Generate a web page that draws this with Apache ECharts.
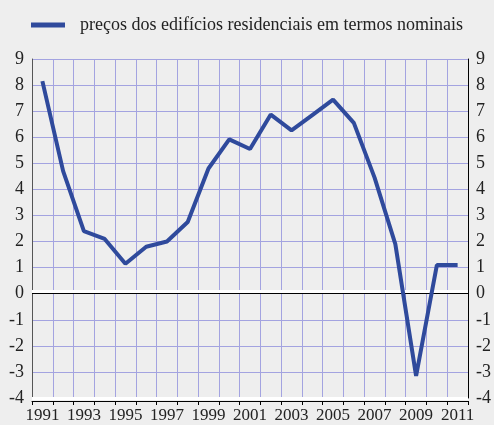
<!DOCTYPE html>
<html>
<head>
<meta charset="utf-8">
<script src="https://cdn.jsdelivr.net/npm/echarts@6/dist/echarts.min.js"></script>
<style>
  html, body { margin: 0; padding: 0; background: #eeeeee; }
  #chart { width: 494px; height: 425px; }
</style>
</head>
<body>
<div id="chart"></div>
<script>
// anos e variação dos preços (%)
const years = ["1991","1992","1993","1994","1995","1996","1997","1998","1999","2000",
  "2001","2002","2003","2004","2005","2006","2007","2008","2009","2010","2011"];
const precos = [8.15, 4.7, 2.4, 2.1, 1.15, 1.8, 2.0, 2.75, 4.8, 5.92,
  5.55, 6.87, 6.26, 6.85, 7.44, 6.55, 4.45, 1.9, -3.15, 1.1, 1.1];
const serieNome = "preços dos edifícios residenciais em termos nominais";

const font = "Liberation Serif";
const chart = echarts.init(document.getElementById("chart"));

const yAxisBase = {
  type: "value",
  min: -4,
  max: 9,
  interval: 1,
  axisTick: { show: false },
  axisLabel: { fontFamily: font, fontSize: 18, color: "#222", margin: 8 },
};

chart.setOption({
  backgroundColor: "#eeeeee",
  animation: false,
  legend: {
    left: 26,
    top: 11,
    icon: "rect",
    itemWidth: 34,
    itemHeight: 5,
    textStyle: { fontFamily: font, fontSize: 18, color: "#222", padding: [0, 0, 0, 10] },
    data: [serieNome],
  },
  grid: { left: 32, right: 22, top: 59, bottom: 27 },
  xAxis: {
    type: "category",
    data: years,
    boundaryGap: true,
    position: "bottom",
    offset: 3,
    axisLine: { onZero: false, lineStyle: { color: "#000", width: 1 } },
    axisTick: { show: true, interval: 0, length: 4, lineStyle: { color: "#000" } },
    axisLabel: { interval: 1, fontFamily: font, fontSize: 17, color: "#222", margin: 6 },
    splitLine: { show: true, interval: 0, lineStyle: { color: "#a3a3e0", width: 1 } },
  },
  yAxis: [
    Object.assign({}, yAxisBase, {
      position: "left",
      axisLine: { show: true, lineStyle: { color: "#555", width: 1 } },
      splitLine: { show: true, lineStyle: { color: "#a3a3e0", width: 1 } },
    }),
    Object.assign({}, yAxisBase, {
      position: "right",
      axisLine: { show: true, lineStyle: { color: "#000", width: 1 } },
      splitLine: { show: false },
    }),
  ],
  series: [
    {
      name: serieNome,
      type: "line",
      data: precos,
      symbol: "none",
      lineStyle: { color: "#2f4a9c", width: 4 },
      itemStyle: { color: "#2f4a9c" },
      z: 5,
      markLine: {
        silent: true,
        symbol: "none",
        label: { show: false },
        z: 3,
        data: [
          { yAxis: 0.08, lineStyle: { color: "#fff", width: 3, type: "solid" } },
          { yAxis: -4, lineStyle: { color: "#fff", width: 3, type: "solid" } },
          { yAxis: 0, lineStyle: { color: "#000", width: 1, type: "solid" } },
        ],
      },
    },
  ],
});
</script>
</body>
</html>
